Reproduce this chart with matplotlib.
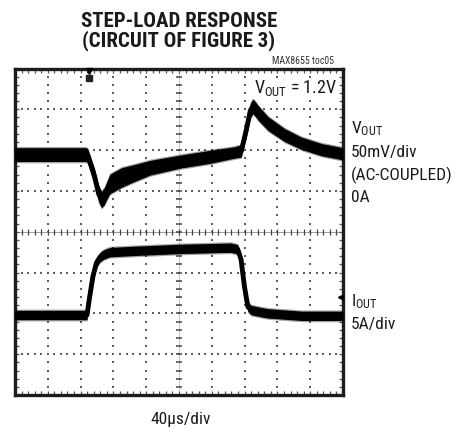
import matplotlib
matplotlib.use('Agg')
import matplotlib.pyplot as plt
import numpy as np
from matplotlib.ticker import MultipleLocator

# ---------------- data ----------------
# time axis: 40 us/div, 10 divisions
t_vout_us = [0, 87, 89, 97, 102, 105.5, 109, 112, 115.7, 130, 144.4, 165, 202, 239,
             267, 276, 282, 287, 290, 293, 296.6, 308.6, 328.6, 349, 374, 400]
# VOUT, AC-coupled deviation, mV (50 mV/div)
vout_mv = [0, 0, -2, -27, -48, -55, -51, -44, -36, -28, -23, -16, -8.5, -2.5,
           2.5, 4.5, 30, 54, 59, 56, 51, 38, 24, 14, 6, 1]
# visible trace (noise band) thickness, mV
vout_band_mv = [17, 17, 17, 19, 20, 20, 21, 22, 24, 24, 21, 18, 16, 16,
                14, 15, 17, 18, 18, 18, 18, 17, 16, 15, 15, 15]

t_iout_us = [0, 87.8, 91, 95, 99.3, 103.4, 108, 115.7, 144, 202, 263, 271.6,
             275.7, 279.8, 284, 288, 300, 308.6, 349.5, 400]
# IOUT, A (5 A/div), relative to the low-load level
iout_a = [0, 0, 2.2, 4.7, 6.4, 7.05, 7.4, 7.7, 7.85, 8.1, 8.25, 8.05,
          6.8, 3.5, 1.0, 0.6, 0.35, 0.2, -0.1, -0.1]
iout_band_a = [1.15] * len(t_iout_us)

us_per_div = 40.0
mv_per_div = 50.0
a_per_div = 5.0
vout_pos_div = 5.89   # screen position of VOUT trace zero
iout_pos_div = 1.96   # screen position of IOUT low-load level
trigger_us = 90.6
ch2_marker_div = 2.4

title_lines = ['STEP-LOAD RESPONSE', '(CIRCUIT OF FIGURE 3)']
right_labels_v = [r'$\mathregular{V_{OUT}}$', '50mV/div', '(AC-COUPLED)', '0A']
right_labels_i = [r'$\mathregular{I_{OUT}}$', '5A/div']

# ---------------- style ----------------
FAM = ['Roboto Condensed', 'DejaVu Sans']
plt.rcParams['font.family'] = FAM
plt.rcParams['font.stretch'] = 'condensed'
plt.rcParams['mathtext.fontset'] = 'custom'
plt.rcParams['mathtext.rm'] = 'Roboto Condensed'
plt.rcParams['mathtext.it'] = 'Roboto Condensed:italic'
plt.rcParams['mathtext.bf'] = 'Roboto Condensed:bold'

W, H = 458, 430
fig = plt.figure(figsize=(W / 100, H / 100), dpi=100)
ax = fig.add_axes([15 / W, 35 / H, 328 / W, 326.5 / H])
ax.set_xlim(0, 10)
ax.set_ylim(0, 8)

# graticule dots
minor = np.arange(0, 10.001, 0.2)
minor_y = np.arange(0, 8.001, 0.2)
dot_col = '#5e5e5e'
for k in [1, 2, 3, 4, 6, 7, 8, 9]:
    ax.plot(np.full_like(minor_y, k), minor_y, ls='none', marker='s', ms=1.5,
            mew=0, color=dot_col, zorder=1)
for j in [1, 2, 3, 5, 6, 7]:
    ax.plot(minor, np.full_like(minor, j), ls='none', marker='s', ms=1.5,
            mew=0, color=dot_col, zorder=1)
# centre cross with ticks
ax.axhline(4, color='#8a8a8a', lw=0.6, zorder=1)
ax.axvline(5, color='#b0b0b0', lw=0.5, zorder=1)
ax.plot(minor, np.full_like(minor, 4), ls='none', marker='|', ms=4.8, mew=0.9,
        color='#444444', zorder=1)
ax.plot(np.full_like(minor_y, 5), minor_y, ls='none', marker='_', ms=4.2, mew=1.1,
        color='#444444', zorder=1)

# border ticks
ax.xaxis.set_major_locator(MultipleLocator(1))
ax.xaxis.set_minor_locator(MultipleLocator(0.2))
ax.yaxis.set_major_locator(MultipleLocator(1))
ax.yaxis.set_minor_locator(MultipleLocator(0.2))
ax.tick_params(which='both', direction='in', length=3, width=0.9, color='#555555',
               top=True, right=True, bottom=True, left=True,
               labelbottom=False, labelleft=False)
for s in ax.spines.values():
    s.set_linewidth(2.4)
    s.set_color('#1c1c1c')

# traces
tv = np.array(t_vout_us) / us_per_div
cv = vout_pos_div + np.array(vout_mv) / mv_per_div
hv = np.array(vout_band_mv) / mv_per_div / 2
ax.fill_between(tv, cv - hv, cv + hv, color='black', lw=0, zorder=3)
ax.fill_between(tv, cv - hv - 0.03, cv + hv + 0.03, color='black', alpha=0.35, lw=0, zorder=3)
ax.plot(tv, cv, color='black', lw=3.5, zorder=3, solid_capstyle='butt',
        solid_joinstyle='round')

ti = np.array(t_iout_us) / us_per_div
ci = iout_pos_div + np.array(iout_a) / a_per_div
hi = np.array(iout_band_a) / a_per_div / 2
ax.fill_between(ti, ci - hi, ci + hi, color='black', lw=0, zorder=3)
ax.fill_between(ti, ci - hi - 0.03, ci + hi + 0.03, color='black', alpha=0.35, lw=0, zorder=3)
ax.plot(ti, ci, color='black', lw=3.5, zorder=3, solid_capstyle='butt',
        solid_joinstyle='round')

# trigger marker and channel marker
ax.plot([trigger_us / us_per_div], [7.93], marker='v', ms=5, color='black',
        clip_on=False, zorder=5)
ax.plot([trigger_us / us_per_div], [7.77], marker='s', ms=4.5, color='#222222',
        zorder=5)
ax.plot([9.93], [ch2_marker_div], marker='<', ms=5, color='black', zorder=5)

# text
fig.text(179 / W, 1 - 26.7 / H, title_lines[0], ha='center', va='baseline',
         fontsize=15, fontweight='heavy', color='#1a1a1a')
fig.text(179 / W, 1 - 46.7 / H, title_lines[1], ha='center', va='baseline',
         fontsize=15, fontweight='heavy', color='#1a1a1a')
fig.text(334.5 / W, 1 - 63.5 / H, 'MAX8655 toc05', ha='right', va='baseline',
         fontsize=7, color='#333333')
ax.text(337 / W, 1 - 93.3 / H, r'$\mathregular{V_{OUT}}$ = 1.2V', transform=fig.transFigure,
        ha='right', va='baseline', fontsize=13, color='#1a1a1a', zorder=6,
        bbox=dict(facecolor='white', edgecolor='none', pad=0.5))

for lbl, yb in zip(right_labels_v, [133, 157, 180, 202]):
    fig.text(351 / W, 1 - yb / H, lbl, ha='left', va='baseline', fontsize=12.5,
             color='#1a1a1a')
for lbl, yb in zip(right_labels_i, [306.7, 329]):
    fig.text(351 / W, 1 - yb / H, lbl, ha='left', va='baseline', fontsize=12.5,
             color='#1a1a1a')
fig.text(181 / W, 1 - 424 / H, '40\u00b5s/div', ha='center', va='baseline',
         fontsize=12.5, color='#1a1a1a')

fig.savefig('out.png', dpi=100)
